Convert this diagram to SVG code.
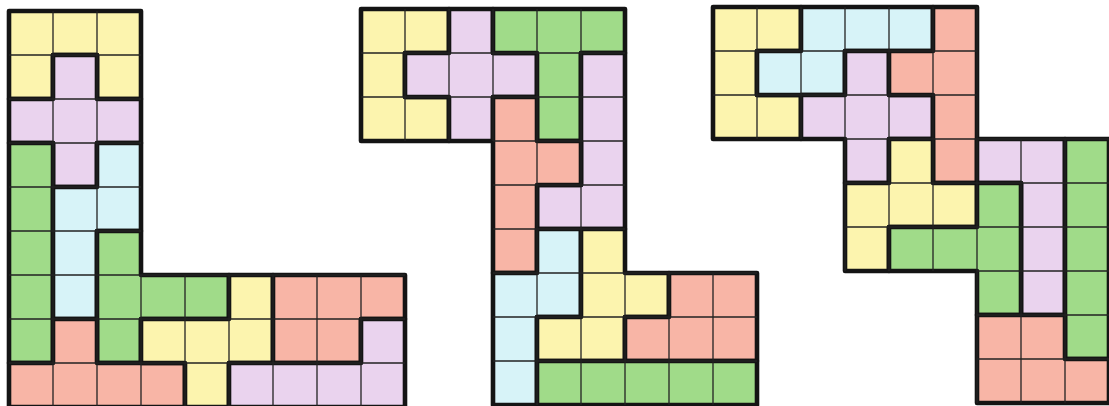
<svg xmlns="http://www.w3.org/2000/svg" width="1109" height="406" viewBox="0 0 1109 406">
<style>
.pc{stroke:#141414;stroke-width:4.6;stroke-linejoin:round;vector-effect:non-scaling-stroke}
.grid{fill:none;stroke:#222;stroke-width:1.3;vector-effect:non-scaling-stroke}
.y{fill:#FCF4AE}.p{fill:#EAD3EE}.g{fill:#A0DB89}.c{fill:#D7F3F8}.r{fill:#F8B5A6}
</style>
<rect width="1109" height="406" fill="#ffffff"/>
<g id="shape1" transform="translate(9,11) scale(44)">
<g id="s1-yellow-u"><polygon class="pc y" points="0,0 3,0 3,2 2,2 2,1 1,1 1,2 0,2"/></g>
<g id="s1-purple-plus"><polygon class="pc p" points="1,1 2,1 2,2 3,2 3,3 2,3 2,4 1,4 1,3 0,3 0,2 1,2"/></g>
<g id="s1-green-i"><polygon class="pc g" points="0,3 1,3 1,8 0,8"/></g>
<g id="s1-cyan"><polygon class="pc c" points="2,3 3,3 3,5 2,5 2,7 1,7 1,4 2,4"/></g>
<g id="s1-green-t"><polygon class="pc g" points="2,5 3,5 3,6 5,6 5,7 3,7 3,8 2,8"/></g>
<g id="s1-red-y"><polygon class="pc r" points="1,7 2,7 2,8 4,8 4,9 0,9 0,8 1,8"/></g>
<g id="s1-yellow"><polygon class="pc y" points="5,6 6,6 6,8 5,8 5,9 4,9 4,8 3,8 3,7 5,7"/></g>
<g id="s1-red-p"><polygon class="pc r" points="6,6 9,6 9,7 8,7 8,8 6,8"/></g>
<g id="s1-purple-l"><polygon class="pc p" points="8,7 9,7 9,9 5,9 5,8 8,8"/></g>
<path class="grid" d="M1,0V9M2,0V9M3,6V9M4,6V9M5,6V9M6,6V9M7,6V9M8,6V9M0,1H3M0,2H3M0,3H3M0,4H3M0,5H3M0,6H9M0,7H9M0,8H9"/>
</g>
<g id="shape2" transform="translate(361,9) scale(44)">
<g id="s2-yellow-u"><polygon class="pc y" points="0,0 2,0 2,1 1,1 1,2 2,2 2,3 0,3"/></g>
<g id="s2-purple-plus"><polygon class="pc p" points="2,0 3,0 3,1 4,1 4,2 3,2 3,3 2,3 2,2 1,2 1,1 2,1"/></g>
<g id="s2-green-t"><polygon class="pc g" points="3,0 6,0 6,1 5,1 5,3 4,3 4,1 3,1"/></g>
<g id="s2-purple-l"><polygon class="pc p" points="5,1 6,1 6,5 4,5 4,4 5,4"/></g>
<g id="s2-red-y"><polygon class="pc r" points="3,2 4,2 4,3 5,3 5,4 4,4 4,6 3,6"/></g>
<g id="s2-cyan"><polygon class="pc c" points="4,5 5,5 5,7 4,7 4,9 3,9 3,6 4,6"/></g>
<g id="s2-yellow"><polygon class="pc y" points="5,5 6,5 6,6 7,6 7,7 6,7 6,8 4,8 4,7 5,7"/></g>
<g id="s2-red-p"><polygon class="pc r" points="7,6 9,6 9,8 6,8 6,7 7,7"/></g>
<g id="s2-green-i"><polygon class="pc g" points="4,8 9,8 9,9 4,9"/></g>
<path class="grid" d="M1,0V3M2,0V3M3,0V3M4,0V9M5,0V9M6,6V9M7,6V9M8,6V9M0,1H6M0,2H6M3,3H6M3,4H6M3,5H6M3,6H9M3,7H9M3,8H9"/>
</g>
<g id="shape3" transform="translate(713,7) scale(44)">
<g id="s3-yellow-u"><polygon class="pc y" points="0,0 2,0 2,1 1,1 1,2 2,2 2,3 0,3"/></g>
<g id="s3-cyan"><polygon class="pc c" points="2,0 5,0 5,1 3,1 3,2 1,2 1,1 2,1"/></g>
<g id="s3-purple-plus"><polygon class="pc p" points="3,1 4,1 4,2 5,2 5,3 4,3 4,4 3,4 3,3 2,3 2,2 3,2"/></g>
<g id="s3-red"><polygon class="pc r" points="5,0 6,0 6,4 5,4 5,2 4,2 4,1 5,1"/></g>
<g id="s3-yellow"><polygon class="pc y" points="4,3 5,3 5,4 6,4 6,5 4,5 4,6 3,6 3,4 4,4"/></g>
<g id="s3-purple-l"><polygon class="pc p" points="6,3 8,3 8,7 7,7 7,4 6,4"/></g>
<g id="s3-green"><polygon class="pc g" points="6,4 7,4 7,7 6,7 6,6 4,6 4,5 6,5"/></g>
<g id="s3-green-i"><polygon class="pc g" points="8,3 9,3 9,8 8,8"/></g>
<g id="s3-red-p"><polygon class="pc r" points="6,7 8,7 8,8 9,8 9,9 6,9"/></g>
<path class="grid" d="M1,0V3M2,0V3M3,0V6M4,0V6M5,0V6M6,0V9M7,3V9M8,3V9M0,1H6M0,2H6M3,3H9M3,4H9M3,5H9M6,6H9M6,7H9M6,8H9"/>
</g>
</svg>
